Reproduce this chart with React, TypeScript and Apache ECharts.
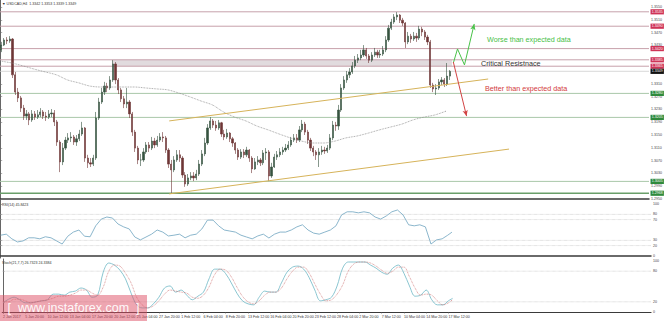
import React, { useEffect, useRef } from 'react';
import * as echarts from 'echarts';

const W = 665;
const H = 321;
const FONT = 'Liberation Sans, Arial, sans-serif';

// ---- x axis (H4 bars) ----
const xTickLabels = ['2 Jan 2017', '5 Jan 20:00', '10 Jan 12:00', '13 Jan 04:00', '17 Jan 20:00', '20 Jan 12:00', '25 Jan 04:00', '27 Jan 20:00', '1 Feb 12:00', '6 Feb 04:00', '8 Feb 20:00', '13 Feb 12:00', '16 Feb 04:00', '20 Feb 20:00', '23 Feb 12:00', '28 Feb 04:00', '2 Mar 20:00', '7 Mar 12:00', '10 Mar 04:00', '14 Mar 20:00', '17 Mar 12:00'];
const barsPerTick = 16;
const lastBar = 323;
const barSlots = 466;

// ---- price axis ----
const priceTicks = [1.3550, 1.3510, 1.3470, 1.3430, 1.3310, 1.3270, 1.3230, 1.3190, 1.3150, 1.3110, 1.3070, 1.3030, 1.2990, 1.2950];
const priceMin = 1.2950;
const priceMax = 1.35719;

// ---- candles (each = 2 H4 bars) ----
const firstOpen = 1.3416;
const candleClose = [
  1.3431, 1.3447, 1.3444, 1.3450, 1.3338, 1.3284, 1.3266, 1.3234, 1.3209, 1.3216,
  1.3197, 1.3216, 1.3206, 1.3213, 1.3222, 1.3209, 1.3206, 1.3216, 1.3219, 1.3191,
  1.3128, 1.3066, 1.3109, 1.3134, 1.3141, 1.3144, 1.3128, 1.3138, 1.3153, 1.3172,
  1.3078, 1.3063, 1.3059, 1.3078, 1.3203, 1.3253, 1.3284, 1.3303, 1.3297, 1.3322,
  1.3372, 1.3322, 1.3291, 1.3263, 1.3247, 1.3253, 1.3216, 1.3159, 1.3109, 1.3072,
  1.3072, 1.3097, 1.3119, 1.3109, 1.3131, 1.3119, 1.3134, 1.3144, 1.3141, 1.3103,
  1.3059, 1.3041, 1.3072, 1.3088, 1.3078, 1.3025, 1.2997, 1.3016, 1.3022, 1.3016,
  1.3028, 1.3059, 1.3091, 1.3125, 1.3172, 1.3194, 1.3181, 1.3172, 1.3188, 1.3153,
  1.3144, 1.3156, 1.3138, 1.3125, 1.3103, 1.3081, 1.3097, 1.3088, 1.3103, 1.3078,
  1.3044, 1.3066, 1.3072, 1.3063, 1.3094, 1.3097, 1.3022, 1.3050, 1.3081, 1.3088,
  1.3097, 1.3103, 1.3109, 1.3119, 1.3134, 1.3141, 1.3134, 1.3166, 1.3184, 1.3159,
  1.3134, 1.3109, 1.3097, 1.3088, 1.3097, 1.3103, 1.3100, 1.3109, 1.3141, 1.3181,
  1.3178, 1.3228, 1.3297, 1.3322, 1.3338, 1.3347, 1.3366, 1.3384, 1.3391, 1.3400,
  1.3416, 1.3397, 1.3384, 1.3400, 1.3409, 1.3400, 1.3403, 1.3416, 1.3447, 1.3484,
  1.3503, 1.3519, 1.3525, 1.3509, 1.3500, 1.3441, 1.3459, 1.3450, 1.3459, 1.3453,
  1.3481, 1.3472, 1.3456, 1.3441, 1.3306, 1.3294, 1.3297, 1.3316, 1.3322, 1.3309,
  1.3334, 1.3349,
];
const candleHigh = [
  1.3441, 1.3453, 1.3456, 1.3459, 1.3453, 1.3347, 1.3297, 1.3272, 1.3244, 1.3228,
  1.3222, 1.3228, 1.3225, 1.3228, 1.3234, 1.3228, 1.3222, 1.3228, 1.3231, 1.3228,
  1.3197, 1.3134, 1.3125, 1.3144, 1.3156, 1.3159, 1.3150, 1.3150, 1.3166, 1.3191,
  1.3175, 1.3088, 1.3078, 1.3088, 1.3222, 1.3266, 1.3297, 1.3316, 1.3313, 1.3334,
  1.3384, 1.3378, 1.3328, 1.3297, 1.3272, 1.3297, 1.3259, 1.3222, 1.3166, 1.3116,
  1.3091, 1.3109, 1.3128, 1.3128, 1.3144, 1.3141, 1.3147, 1.3156, 1.3159, 1.3147,
  1.3109, 1.3072, 1.3084, 1.3103, 1.3103, 1.3084, 1.3034, 1.3028, 1.3034, 1.3034,
  1.3041, 1.3072, 1.3103, 1.3141, 1.3184, 1.3206, 1.3200, 1.3194, 1.3197, 1.3191,
  1.3166, 1.3169, 1.3159, 1.3144, 1.3128, 1.3109, 1.3106, 1.3106, 1.3113, 1.3106,
  1.3084, 1.3078, 1.3084, 1.3078, 1.3103, 1.3109, 1.3103, 1.3063, 1.3091, 1.3100,
  1.3109, 1.3113, 1.3122, 1.3131, 1.3144, 1.3153, 1.3153, 1.3178, 1.3197, 1.3191,
  1.3166, 1.3141, 1.3116, 1.3103, 1.3109, 1.3116, 1.3113, 1.3119, 1.3153, 1.3194,
  1.3191, 1.3244, 1.3309, 1.3334, 1.3350, 1.3359, 1.3378, 1.3397, 1.3403, 1.3416,
  1.3431, 1.3422, 1.3403, 1.3409, 1.3422, 1.3416, 1.3416, 1.3428, 1.3459, 1.3494,
  1.3513, 1.3528, 1.3534, 1.3528, 1.3516, 1.3503, 1.3472, 1.3466, 1.3472, 1.3469,
  1.3491, 1.3488, 1.3478, 1.3463, 1.3447, 1.3313, 1.3309, 1.3325, 1.3331, 1.3328,
  1.3375, 1.3353,
];
const candleLow = [
  1.3409, 1.3428, 1.3434, 1.3438, 1.3328, 1.3275, 1.3253, 1.3222, 1.3197, 1.3197,
  1.3181, 1.3191, 1.3197, 1.3200, 1.3206, 1.3200, 1.3194, 1.3200, 1.3206, 1.3178,
  1.3116, 1.3034, 1.3056, 1.3103, 1.3125, 1.3128, 1.3119, 1.3116, 1.3131, 1.3147,
  1.3066, 1.3047, 1.3050, 1.3053, 1.3072, 1.3197, 1.3247, 1.3275, 1.3284, 1.3291,
  1.3316, 1.3309, 1.3278, 1.3253, 1.3234, 1.3234, 1.3203, 1.3147, 1.3097, 1.3059,
  1.3053, 1.3066, 1.3091, 1.3097, 1.3103, 1.3109, 1.3113, 1.3128, 1.3128, 1.3094,
  1.3047, 1.2969, 1.3034, 1.3066, 1.3066, 1.3016, 1.2988, 1.2991, 1.3009, 1.3006,
  1.3009, 1.3022, 1.3053, 1.3084, 1.3119, 1.3166, 1.3172, 1.3163, 1.3166, 1.3144,
  1.3134, 1.3138, 1.3128, 1.3113, 1.3091, 1.3072, 1.3075, 1.3078, 1.3081, 1.3066,
  1.3031, 1.3041, 1.3056, 1.3053, 1.3056, 1.3072, 1.3006, 1.3016, 1.3047, 1.3072,
  1.3081, 1.3088, 1.3097, 1.3103, 1.3113, 1.3128, 1.3125, 1.3128, 1.3159, 1.3150,
  1.3122, 1.3100, 1.3084, 1.3072, 1.3050, 1.3088, 1.3091, 1.3094, 1.3103, 1.3134,
  1.3163, 1.3166, 1.3222, 1.3291, 1.3313, 1.3328, 1.3341, 1.3359, 1.3375, 1.3384,
  1.3394, 1.3388, 1.3375, 1.3378, 1.3394, 1.3391, 1.3391, 1.3397, 1.3409, 1.3441,
  1.3478, 1.3497, 1.3509, 1.3500, 1.3491, 1.3422, 1.3434, 1.3438, 1.3444, 1.3441,
  1.3447, 1.3459, 1.3447, 1.3431, 1.3297, 1.3284, 1.3275, 1.3291, 1.3306, 1.3300,
  1.3303, 1.3322,
];

// ---- moving average (one value every 8 H4 bars) ----
const maValues = [
  1.3381, 1.3375, 1.3366, 1.3356, 1.3347, 1.3338, 1.3322, 1.3313, 1.3303, 1.3300,
  1.3300, 1.3300, 1.3300, 1.3297, 1.3294, 1.3291, 1.3281, 1.3269, 1.3256, 1.3244,
  1.3222, 1.3206, 1.3194, 1.3178, 1.3166, 1.3153, 1.3141, 1.3131, 1.3125, 1.3125,
  1.3131, 1.3141, 1.3147, 1.3156, 1.3166, 1.3175, 1.3184, 1.3197, 1.3206, 1.3213,
  1.3225,
];

// ---- indicators (one value every 4 H4 bars, last = final bar) ----
const rsiValues = [
  40, 42, 33, 27, 29, 35, 35, 33, 37, 35,
  29, 23, 38, 46, 50, 38, 37, 58, 71, 75,
  73, 61.5, 56, 52, 36.5, 31, 36.5, 42, 50, 46,
  38.5, 40, 42, 35, 40, 42, 52, 69, 69, 58,
  50, 48, 46, 40, 36.5, 33, 38.5, 42, 34.6, 42,
  46, 46, 50, 56, 60, 50, 44, 42, 46, 50,
  58, 79, 85, 85, 83, 85, 83, 75, 71, 77,
  85, 88.5, 79, 60, 58, 60, 56, 23, 31, 33,
  40, 45.84,
];
const stochMain = [
  18, 25, 29, 24, 18, 18, 20, 22, 24, 35,
  35, 33, 39, 41, 47, 43, 29, 33, 78, 96,
  92, 82, 65, 37, 14, 8, 8, 16, 29, 47,
  51, 39, 43, 33, 24, 31, 39, 65, 84, 84,
  75, 57, 37, 22, 16, 14, 29, 41, 39, 39,
  57, 78, 88, 90, 84, 67, 43, 22, 24, 29,
  51, 86, 98, 98, 98, 98, 92, 86, 78, 74,
  86, 92, 76, 51, 31, 33, 43, 24, 14, 14,
  22, 26.73,
];
const stochSignal = [
  20, 20, 25, 25, 22, 18, 20, 22, 24, 27,
  31, 31, 33, 37, 43, 43, 37, 33, 49, 80,
  92, 90, 76, 57, 29, 14, 8, 12, 22, 35,
  43, 41, 39, 37, 29, 27, 33, 49, 73, 84,
  82, 69, 49, 31, 20, 16, 22, 33, 39, 39,
  47, 65, 80, 88, 88, 76, 55, 35, 22, 24,
  35, 53, 80, 94, 98, 98, 96, 90, 82, 76,
  80, 88, 88, 69, 47, 33, 35, 33, 22, 14,
  18, 24.34,
];
const rsiLevels = [80, 70, 30, 20];
const rsiTicks = [100, 80, 70, 30, 20, 0];
const stochLevels = [80, 20];
const stochTicks = [100, 80, 20, 0];

// ---- levels & annotations ----
const resistanceLevels = [1.3535, 1.3490, 1.3420, 1.3385, 1.3365];
const currentPrice = 1.3349;
const supportLevels = [1.3280, 1.3205, 1.3005];
const majorSupport = 1.2968;
const zoneBars = [80, 324];
const zonePrices = [1.3385, 1.3365];
const upperChannel = [[121, 1.3194], [350, 1.3325]];
const lowerChannel = [[121, 1.2966], [365, 1.3106]];
const worsePath = [[325, 1.3375], [328, 1.3419], [333, 1.3369], [340, 1.3497]];
const betterPath = [[325, 1.3378], [334.5, 1.3209]];

export default function App() {
  const ref = useRef<HTMLDivElement>(null);

  useEffect(() => {
    if (!ref.current) return;
    const chart = echarts.init(ref.current, null, { renderer: 'svg', width: W, height: H });

    const candleCats = Array.from({ length: barSlots / 2 }, (_, i) => String(i));
    const candleData = candleClose.map((c, j) => {
      const o = j === 0 ? firstOpen : candleClose[j - 1];
      const hi = Math.max(candleHigh[j], o, c);
      const lo = Math.min(candleLow[j], o, c);
      return [o, c, lo, hi];
    });
    const sampleBar = (k: number) => Math.min(k * 4, lastBar);
    const xTickBars = xTickLabels.map((_, i) => i * barsPerTick);
    const xStart = -0.5;
    const xEnd = barSlots - 0.5;

    const tinyLabel = { fontSize: 3.6, color: '#444', fontFamily: FONT };

    // horizontal level drawn as its own two-point line series, with a coloured price box at the axis
    const levelSeries = (v: number, lineColor: string, bg: string | null, width = 1, xAxisIndex = 1, yAxisIndex = 0, type = 'solid') => ({
      type: 'line',
      xAxisIndex,
      yAxisIndex,
      data: [[xStart, v], [xEnd, v]],
      symbol: 'none',
      silent: true,
      z: 1,
      lineStyle: { color: lineColor, width, type },
      endLabel: bg
        ? {
            show: true,
            formatter: v.toFixed(4),
            color: '#fff',
            backgroundColor: bg,
            fontSize: 3.6,
            fontFamily: FONT,
            padding: [0.6, 1.2],
            distance: 1.5,
          }
        : { show: false },
    });

    const pathMarkLine = (pts: number[][]) =>
      pts.slice(0, -1).map((p, i) => [
        { coord: p, symbol: 'none' },
        { coord: pts[i + 1], symbol: i === pts.length - 2 ? 'arrow' : 'none', symbolSize: [4, 6] },
      ]);

    const valueX = (gridIndex: number, extra: any = {}) => ({
      type: 'value',
      gridIndex,
      min: xStart,
      max: xEnd,
      splitLine: { show: false },
      axisLabel: { show: false },
      axisTick: { show: false },
      axisLine: { show: false },
      ...extra,
    });

    chart.setOption({
      animation: false,
      backgroundColor: '#ffffff',
      textStyle: { fontFamily: FONT },
      grid: [
        { left: 0, top: 0, width: 651, height: 199 },
        { left: 0, top: 200, width: 651, height: 58 },
        { left: 0, top: 259, width: 651, height: 54 },
      ],
      xAxis: [
        {
          type: 'category',
          gridIndex: 0,
          data: candleCats,
          boundaryGap: true,
          axisLabel: { show: false },
          axisTick: { show: false },
          splitLine: { show: false },
          axisLine: { show: true, lineStyle: { color: '#3a3a3a', width: 1.5 } },
        },
        valueX(0, { show: false }),
        valueX(1, { axisLine: { show: true, lineStyle: { color: '#3a3a3a', width: 1.5 } } }),
        valueX(2, {
          axisLine: { show: true, lineStyle: { color: '#3a3a3a', width: 1.2 } },
          axisTick: { show: true, customValues: xTickBars, length: 1.5, lineStyle: { color: '#555', width: 0.6 } },
          axisLabel: {
            show: true,
            customValues: xTickBars,
            formatter: (v: number) => xTickLabels[Math.round(v / barsPerTick)] ?? '',
            align: 'left',
            margin: 2,
            ...tinyLabel,
            color: '#333',
          },
        }),
      ],
      yAxis: [
        {
          type: 'value',
          gridIndex: 0,
          position: 'right',
          min: priceMin,
          max: priceMax,
          splitLine: { show: false },
          axisLine: { show: true, lineStyle: { color: '#666', width: 1 } },
          axisTick: { show: true, customValues: priceTicks, length: 1.5, lineStyle: { color: '#777', width: 0.6 } },
          axisLabel: { customValues: priceTicks, formatter: (v: number) => v.toFixed(4), margin: 2, ...tinyLabel },
        },
        {
          type: 'value',
          gridIndex: 1,
          position: 'right',
          min: -3.85,
          max: 107.7,
          splitLine: { show: false },
          axisLine: { show: true, lineStyle: { color: '#666', width: 1 } },
          axisTick: { show: true, customValues: rsiTicks, length: 1.5, lineStyle: { color: '#777', width: 0.6 } },
          axisLabel: { customValues: rsiTicks, margin: 2, ...tinyLabel },
        },
        {
          type: 'value',
          gridIndex: 2,
          position: 'right',
          min: -1.96,
          max: 103.9,
          splitLine: { show: false },
          axisLine: { show: true, lineStyle: { color: '#666', width: 1 } },
          axisTick: { show: true, customValues: stochTicks, length: 1.5, lineStyle: { color: '#777', width: 0.6 } },
          axisLabel: { customValues: stochTicks, margin: 2, ...tinyLabel },
        },
      ],
      series: [
        {
          name: 'zone',
          type: 'line',
          xAxisIndex: 1,
          yAxisIndex: 0,
          data: [],
          z: 0,
          silent: true,
          markArea: {
            silent: true,
            itemStyle: { color: '#e1dbde' },
            data: [[{ coord: [zoneBars[0], zonePrices[0]] }, { coord: [zoneBars[1], zonePrices[1]] }]],
          },
        },
        ...resistanceLevels.map((v) => levelSeries(v, '#c7a1ab', '#cf3457')),
        levelSeries(currentPrice, '#cfcfcf', '#111111', 0.8),
        ...supportLevels.map((v) => levelSeries(v, '#a9c8a9', '#2f8a3c')),
        levelSeries(majorSupport, '#6a9f6a', '#2f8a3c', 1.6),
        ...rsiLevels.map((v) => levelSeries(v, '#b5b5b5', null, 0.6, 2, 1, 'dotted')),
        ...stochLevels.map((v) => levelSeries(v, '#b5b5b5', null, 0.6, 3, 2, 'dotted')),
        {
          name: 'USDCAD,H4',
          type: 'candlestick',
          xAxisIndex: 0,
          yAxisIndex: 0,
          data: candleData,
          barWidth: 1.7,
          z: 3,
          itemStyle: {
            color: '#36533f',
            color0: '#6e3636',
            borderColor: '#36533f',
            borderColor0: '#6e3636',
            borderWidth: 0.6,
          },
        },
        {
          name: 'MA',
          type: 'line',
          xAxisIndex: 1,
          yAxisIndex: 0,
          data: maValues.map((v, k) => [k * 8, v]),
          symbol: 'none',
          smooth: 0.3,
          z: 4,
          lineStyle: { color: '#8a8a8a', width: 0.8, type: 'dotted' },
        },
        {
          name: 'upper channel',
          type: 'line',
          xAxisIndex: 1,
          yAxisIndex: 0,
          data: upperChannel,
          symbol: 'none',
          z: 4,
          lineStyle: { color: '#d6b35a', width: 1 },
        },
        {
          name: 'lower channel',
          type: 'line',
          xAxisIndex: 1,
          yAxisIndex: 0,
          data: lowerChannel,
          symbol: 'none',
          z: 4,
          lineStyle: { color: '#d6b35a', width: 1 },
        },
        {
          name: 'worse',
          type: 'line',
          xAxisIndex: 1,
          yAxisIndex: 0,
          data: [],
          z: 5,
          markLine: {
            silent: true,
            symbol: ['none', 'none'],
            label: { show: false },
            lineStyle: { color: '#49c249', width: 1, type: 'solid' },
            itemStyle: { color: '#49c249' },
            data: pathMarkLine(worsePath),
          },
        },
        {
          name: 'better',
          type: 'line',
          xAxisIndex: 1,
          yAxisIndex: 0,
          data: [],
          z: 5,
          markLine: {
            silent: true,
            symbol: ['none', 'none'],
            label: { show: false },
            lineStyle: { color: '#d24444', width: 1, type: 'solid' },
            itemStyle: { color: '#d24444' },
            data: pathMarkLine(betterPath),
          },
        },
        {
          name: 'RSI(14)',
          type: 'line',
          xAxisIndex: 2,
          yAxisIndex: 1,
          data: rsiValues.map((v, k) => [sampleBar(k), v]),
          symbol: 'none',
          z: 3,
          lineStyle: { color: '#7eaec6', width: 0.9 },
        },
        {
          name: 'Stoch main',
          type: 'line',
          xAxisIndex: 3,
          yAxisIndex: 2,
          data: stochMain.map((v, k) => [sampleBar(k), v]),
          symbol: 'none',
          smooth: 0.35,
          z: 3,
          lineStyle: { color: '#7ec0cc', width: 0.9 },
        },
        {
          name: 'Stoch signal',
          type: 'line',
          xAxisIndex: 3,
          yAxisIndex: 2,
          data: stochSignal.map((v, k) => [sampleBar(k), v]),
          symbol: 'none',
          smooth: 0.35,
          z: 3,
          lineStyle: { color: '#d07a7a', width: 0.8, type: 'dotted' },
        },
      ],
      graphic: [
        {
          type: 'text', x: 2, y: 4, z: 50,
          style: { text: '▼ USDCAD,H4  1.3342 1.3353 1.3339 1.3349', fontSize: 3.6, fill: '#333', fontFamily: FONT, textVerticalAlign: 'middle' },
        },
        {
          type: 'text', x: 2, y: 205, z: 50,
          style: { text: 'RSI(14) 45.8423', fontSize: 3.6, fill: '#333', fontFamily: FONT, textVerticalAlign: 'middle' },
        },
        {
          type: 'text', x: 2, y: 262.5, z: 50,
          style: { text: 'Stoch(21,7,7) 26.7323 24.3384', fontSize: 3.6, fill: '#333', fontFamily: FONT, textVerticalAlign: 'middle' },
        },
        {
          type: 'text', x: 487, y: 39, z: 50,
          style: { text: 'Worse than expected data', fontSize: 7.2, fill: '#47c047', fontFamily: FONT, textVerticalAlign: 'middle' },
        },
        {
          type: 'text', x: 481, y: 63, z: 50,
          style: { text: 'Critical Resistnace', fontSize: 7.2, fill: '#333333', fontFamily: FONT, textVerticalAlign: 'middle' },
        },
        {
          type: 'text', x: 485, y: 88, z: 50,
          style: { text: 'Better than expected data', fontSize: 7.2, fill: '#d23b3b', fontFamily: FONT, textVerticalAlign: 'middle' },
        },
        {
          type: 'rect', z: 100,
          shape: { x: 0, y: 295, width: 147, height: 26 },
          style: { fill: 'rgba(222,78,100,0.5)' },
        },
        {
          type: 'text', x: 73.5, y: 308, z: 101,
          style: {
            text: '[  www.instaforex.com  ]',
            fontSize: 12.5,
            fill: 'rgba(255,255,255,0.95)',
            fontFamily: FONT,
            textAlign: 'center',
            textVerticalAlign: 'middle',
          },
        },
      ],
    });

    return () => chart.dispose();
  }, []);

  return (
    <div
      ref={ref}
      style={{ position: 'absolute', left: 0, top: 0, width: W, height: H, background: '#fff' }}
    />
  );
}
